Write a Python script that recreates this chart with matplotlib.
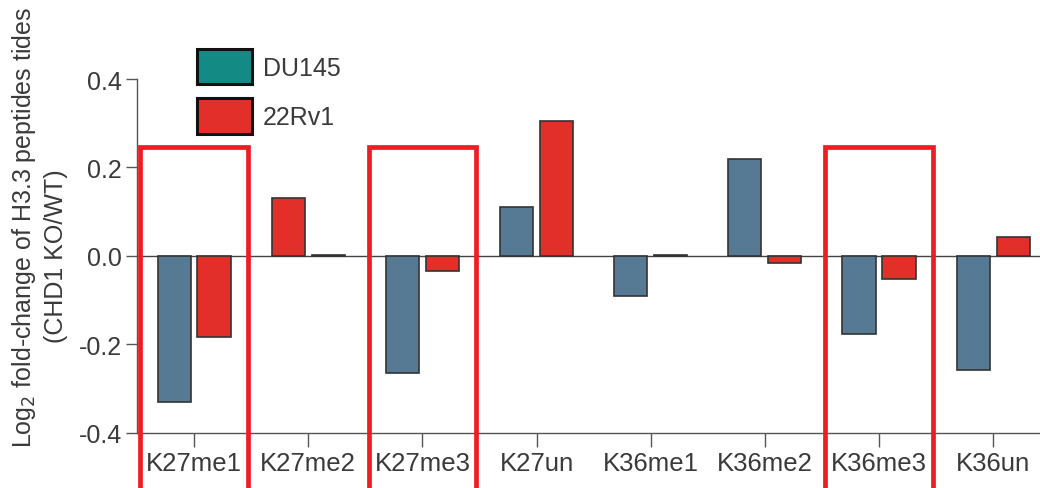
import matplotlib.pyplot as plt
from matplotlib.patches import Patch, Rectangle
import numpy as np

plt.rcParams['font.family'] = ['Liberation Sans', 'DejaVu Sans']

marks = ["K27me1", "K27me2", "K27me3", "K27un", "K36me1", "K36me2", "K36me3", "K36un"]
du145 = [-0.331, 0.130, -0.265, 0.111, -0.091, 0.219, -0.176, -0.257]
rv1 = [-0.183, 0.002, -0.035, 0.304, 0.002, -0.016, -0.052, 0.044]
boxed = ["K27me1", "K27me3", "K36me3"]

blue = "#577A94"
red = "#E32F2A"
teal = "#138A83"
box_red = "#EE1C25"
txt = "#3a3a3a"

# the first K27me2 bar is filled red in the original figure
left_colors = [red if m == "K27me2" else blue for m in marks]

fig = plt.figure(figsize=(10.4, 4.89), dpi=100)
ax = fig.add_axes([0.1317, 0.1125, 1 - 0.1317, 0.7239])

x = np.arange(len(marks))
w = 0.29
off = 0.175
ax.bar(x - off, du145, w, color=left_colors, edgecolor="#333333", linewidth=1.2, zorder=3)
ax.bar(x + off, rv1, w, color=red, edgecolor="#333333", linewidth=1.2, zorder=3)
ax.axhline(0, color="#444444", lw=1.0, zorder=2)

ax.set_xlim(-0.5, 7.41)
ax.set_ylim(-0.4, 0.4)
ax.set_yticks([-0.4, -0.2, 0.0, 0.2, 0.4])
ax.set_yticklabels(["-0.4", "-0.2", "0.0", "0.2", "0.4"])
ax.set_xticks(x)
ax.set_xticklabels(marks)
ax.tick_params(axis="y", labelsize=18, colors="#555555", labelcolor=txt,
               length=8, width=1, pad=3)
ax.tick_params(axis="x", labelsize=18.5, colors="#555555", labelcolor=txt,
               length=10, width=1, pad=3)
for s in ["top", "right"]:
    ax.spines[s].set_visible(False)
for s in ["left", "bottom"]:
    ax.spines[s].set_color("#555555")
    ax.spines[s].set_linewidth(1.0)

# red highlight boxes running off the bottom of the figure
for m in boxed:
    i = marks.index(m)
    ax.add_patch(Rectangle((i - 0.47, -0.6), 0.94, 0.6 + 0.247, fill=False,
                           edgecolor=box_red, lw=3.4, clip_on=False, zorder=4))

handles = [Patch(facecolor=teal, edgecolor="#111111", lw=2.2, label="DU145"),
           Patch(facecolor=red, edgecolor="#111111", lw=2.2, label="22Rv1")]
ax.legend(handles=handles, loc="upper left", bbox_to_anchor=(197 / 1040, 1 - 50 / 489),
          bbox_transform=fig.transFigure, frameon=False, fontsize=18,
          handlelength=2.2, handleheight=1.8, labelspacing=0.55, handletextpad=0.45,
          borderpad=0, borderaxespad=0, labelcolor=txt)

fig.text(24 / 1040, 1 - 448 / 489, r"Log$_2$ fold-change of H3.3 peptides tides",
         rotation=90, ha="center", va="bottom", fontsize=18, color=txt)
fig.text(56 / 1040, 1 - 256 / 489, "(CHD1 KO/WT)",
         rotation=90, ha="center", va="center", fontsize=18, color=txt)

fig.savefig("out.png", dpi=100, facecolor="white")
